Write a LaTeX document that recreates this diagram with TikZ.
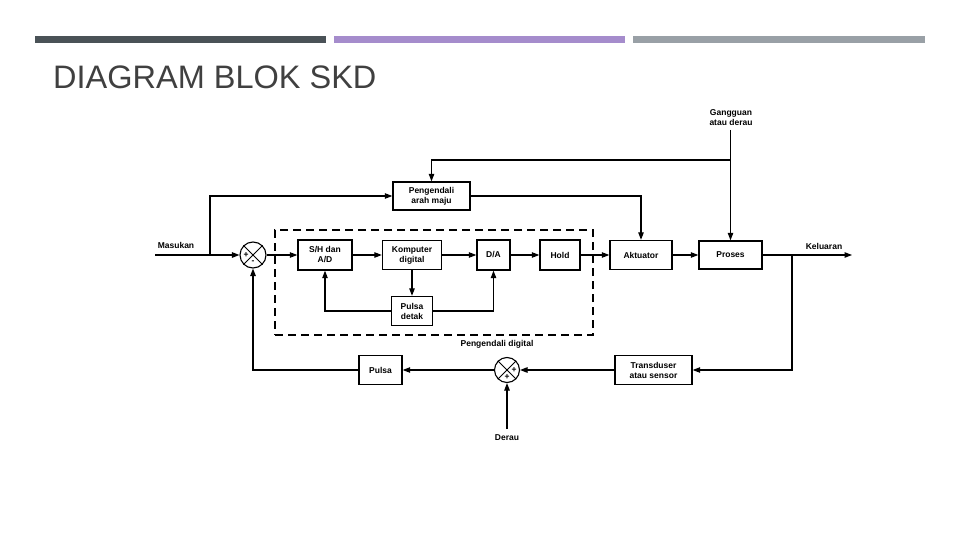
\documentclass[tikz,border=0pt]{standalone}
\usepackage{fontspec}
\setmainfont{Liberation Sans}
\usetikzlibrary{arrows.meta}
\definecolor{bargelap}{HTML}{4A5257}
\definecolor{barungu}{HTML}{A58CCC}
\definecolor{barabu}{HTML}{99A0A6}
\definecolor{judul}{HTML}{404040}
\tikzset{
	blok/.style={draw, line width=1.4pt, font=\bfseries\fontsize{8.5}{10}\selectfont, align=center, inner sep=0pt},
	teks/.style={font=\bfseries\fontsize{8.5}{10}\selectfont, align=center, inner sep=0pt},
	jumlah/.style={draw, circle, line width=1.1pt, minimum size=26pt, inner sep=0pt},
	tanda/.style={font=\bfseries\fontsize{8.5}{8.5}\selectfont, inner sep=0pt},
	panah/.style={line width=1.1pt, -{Triangle[length=7.5pt,width=5.5pt]}},
}

\begin{document}
\begin{tikzpicture}[x=1pt, y=-1pt]
		%%%%% START %%%%%
		\useasboundingbox (0,0) rectangle (960,540);
		
		\fill[bargelap] (35, 36) rectangle (326, 43);
		\fill[barungu] (334, 36) rectangle (625, 43);
		\fill[barabu] (633, 36) rectangle (925, 43);
		\node[anchor=base west, text=judul, font=\fontsize{32.5}{32.5}\selectfont, inner sep=0pt] (judul) at (53, 89) {DIAGRAM BLOK SKD};
		
		% blok
		\node[blok, minimum width=77pt, minimum height=28pt] (maju) at (431.5, 196) {Pengendali\\arah maju};
		\node[blok, minimum width=54pt, minimum height=30pt] (sh) at (325, 255) {S/H dan\\A/D};
		\node[blok, minimum width=59pt, minimum height=29pt] (komp) at (412, 255) {Komputer\\digital};
		\node[blok, minimum width=33pt, minimum height=30pt] (da) at (493.5, 255) {D/A};
		\node[blok, minimum width=40pt, minimum height=30pt] (hold) at (560, 255) {Hold};
		\node[blok, minimum width=62pt, minimum height=29pt] (akt) at (641, 255) {Aktuator};
		\node[blok, minimum width=63pt, minimum height=28pt] (proses) at (730.5, 255) {Proses};
		\node[blok, minimum width=41pt, minimum height=29pt] (pdetak) at (412, 311) {Pulsa\\detak};
		\node[blok, minimum width=77pt, minimum height=29pt] (trans) at (653.5, 370) {Transduser\\atau sensor};
		\node[blok, minimum width=43pt, minimum height=29pt] (pulsa) at (380.5, 370) {Pulsa};
		
		\node[draw, dashed, dash pattern=on 8pt off 5pt, line width=1.3pt, minimum width=318pt, minimum height=105pt] (digital) at (434, 282.5) {};
		\node[teks] (tdigital) at (497, 344) {Pengendali digital};
		
		% penjumlah
		\node[jumlah] (sum1) at (253, 255) {};
		\draw[line width=0.9pt] (sum1.north west) -- (sum1.south east) (sum1.north east) -- (sum1.south west);
		\node[tanda] (plus1) at ([xshift=-7pt]sum1.center) {+};
		\node[tanda] (minus1) at ([yshift=-7pt]sum1.center) {-};
		
		\node[jumlah, minimum size=25pt] (sum2) at (507, 370) {};
		\draw[line width=0.9pt] (sum2.north west) -- (sum2.south east) (sum2.north east) -- (sum2.south west);
		\node[tanda] (plus2) at ([xshift=7pt]sum2.center) {+};
		\node[tanda] (plus3) at ([yshift=-7pt]sum2.center) {+};
		
		% teks luar
		\node[teks] (tmasuk) at (176, 245) {Masukan};
		\node[teks] (tkeluar) at (824, 246) {Keluaran};
		\node[teks] (tganggu) at (731, 118) {Gangguan\\atau derau};
		\node[teks] (tderau) at (507, 438) {Derau};
		
		\coordinate (masuk) at (155, 255);
		\coordinate (cabang1) at (210, 255);
		\coordinate (keluar) at (852, 255);
		\coordinate (cabang2) at (792, 255);
		\coordinate (ganggu) at (730.5, 130);
		\coordinate (cabang3) at (730.5, 160);
		\coordinate (derau) at (507, 429);
		
		% jalur maju
		\draw[panah] (masuk) -- (sum1.west);
		\draw[panah] (cabang1) |- (maju.west);
		\draw[panah] (sum1.east) -- (sh.west);
		\draw[panah] (sh.east) -- (komp.west);
		\draw[panah] (komp.east) -- (da.west);
		\draw[panah] (da.east) -- (hold.west);
		\draw[panah] (hold.east) -- (akt.west);
		\draw[panah] (akt.east) -- (proses.west);
		\draw[panah] (proses.east) -- (keluar);
		\draw[panah] (maju.east) -| (akt.north);
		\draw[panah] (ganggu) -- (proses.north);
		\draw[panah] (cabang3) -| (maju.north);
		
		% pulsa detak
		\draw[panah] (komp.south) -- (pdetak.north);
		\draw[panah] (pdetak.west) -| (sh.south);
		\draw[panah] (pdetak.east) -| (da.south);
		
		% umpan balik
		\draw[panah] (cabang2) |- (trans.east);
		\draw[panah] (trans.west) -- (sum2.east);
		\draw[panah] (derau) -- (sum2.south);
		\draw[panah] (sum2.west) -- (pulsa.east);
		\draw[panah] (pulsa.west) -| (sum1.south);
		
		%%%%% END %%%%%
	\end{tikzpicture}
\end{document}
